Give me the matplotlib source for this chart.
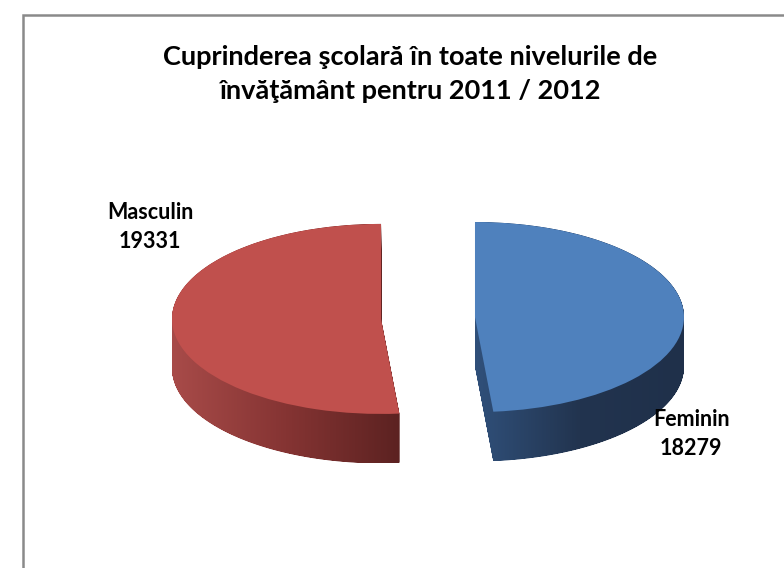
import matplotlib.pyplot as plt
import numpy as np
from matplotlib.path import Path
from matplotlib.patches import PathPatch, Rectangle
from matplotlib.colors import LinearSegmentedColormap

# data
categories = ["Feminin", "Masculin"]
values = [18279, 19331]
title = "Cuprinderea şcolară în toate nivelurile de\nînvăţământ pentru 2011 / 2012"

top_colors = ["#4F81BD", "#C0504D"]
side_colors = [["#30507A", "#22344F", "#1F304A"], ["#A84B49", "#853433", "#5C2221"]]

W, H = 784, 568
fig = plt.figure(figsize=(W / 100, H / 100), dpi=100)
fig.patch.set_facecolor("white")

# chart area border (runs off the right and bottom edges)
fig.patches.append(Rectangle((23 / W, -0.1), 1.2, (H - 15) / H + 0.1,
                             transform=fig.transFigure, fill=False,
                             edgecolor="#8A8A8A", linewidth=1.8))

fig.text(410 / W, 1 - 74 / H, title, ha="center", va="center",
         fontsize=19.5, fontweight="bold", family=["Lato", "DejaVu Sans"],
         linespacing=1.5, color="black")

ax = fig.add_axes([114.5 / W, 79 / H, 627 / W, 304 / H])

depth = 0.52
wedges, _ = ax.pie(values, colors=top_colors, startangle=90, counterclock=False,
                   explode=[0.225, 0.225], radius=1,
                   wedgeprops=dict(linewidth=0))

# 3d side: union of the top face shifted downwards, shaded left -> right
for w, cols in zip(wedges, side_colors):
    w.set_zorder(3)
    cx, cy = w.center
    t = np.deg2rad(np.linspace(w.theta1, w.theta2, 300))
    poly = np.vstack([[cx, cy], np.c_[cx + w.r * np.cos(t), cy + w.r * np.sin(t)], [cx, cy]])
    copies = [Path(poly - [0, d]) for d in np.linspace(0, depth, 100)]
    side = Path.make_compound_path(*copies)
    patch = PathPatch(side, facecolor="none", edgecolor="none")
    ax.add_patch(patch)
    x0, x1 = poly[:, 0].min(), poly[:, 0].max()
    y0, y1 = poly[:, 1].min() - depth, poly[:, 1].max()
    cmap = LinearSegmentedColormap.from_list("side", cols)
    grad = np.linspace(0, 1, 256)[None, :]
    im = ax.imshow(grad, cmap=cmap, extent=[x0, x1, y0, y1], aspect="auto",
                   zorder=1, interpolation="bilinear")
    im.set_clip_path(patch)

ax.set_aspect("auto")
ax.set_xlim(-1.5, 1.5)
ax.set_ylim(-1.8, 1.4)
ax.axis("off")

label_pos = {"Masculin": (-1.33, 0.955), "Feminin": (1.26, -1.22)}
for name, v in zip(categories, values):
    x, y = label_pos[name]
    ax.text(x, y, f"{name}\n{v}", ha="center", va="center", fontsize=15.5,
            fontweight="bold", family=["Lato", "DejaVu Sans"], linespacing=1.45,
            zorder=5)

fig.savefig("out.png", dpi=100)
